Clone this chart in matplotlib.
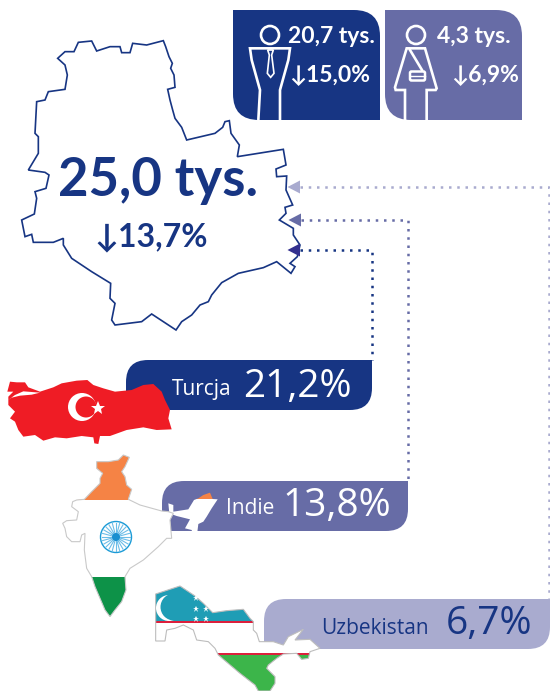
import numpy as np
import matplotlib.pyplot as plt
from matplotlib.path import Path
from matplotlib.patches import PathPatch, Polygon, Circle, Rectangle, FancyBboxPatch

NAVY = '#173583'
PURPLE = '#676ca6'
LIGHT = '#a9abcf'
FONT = ['Open Sans', 'DejaVu Sans']
BOLD_FONT = ['Lato', 'DejaVu Sans']

# values
total_label = '25,0 tys.'
total_change = '↓13,7%'
men_label, men_change = '20,7 tys.', '↓15,0%'
women_label, women_change = '4,3 tys.', '↓6,9%'
countries = ['Turcja', 'Indie', 'Uzbekistan']
shares = ['21,2%', '13,8%', '6,7%']

warsaw = [(490,122),(497,140),(507,170),(517,190),(512,205),(522,225),(525,262),(503,268),(510,300),(518,330),
          (525,355),(545,382),(560,420),(645,400),(668,382),(675,365),(688,362),(693,400),(718,435),(712,470),
          (850,448),(858,495),(828,507),(830,530),(860,528),(858,570),(878,615),(855,622),(858,640),(838,660),
          (880,685),(880,705),(900,735),(892,770),(870,790),(885,800),(873,820),(830,785),(790,803),(715,820),
          (665,848),(635,885),(625,905),(600,915),(575,945),(545,965),(528,990),(455,942),(425,965),(345,975),
          (335,960),(345,910),(330,895),(332,850),(275,815),(215,775),(190,735),(190,715),(160,727),(100,727),
          (95,703),(75,710),(65,660),(103,642),(110,595),(105,575),(138,565),(147,525),(135,517),(85,510),
          (115,460),(115,410),(105,400),(110,305),(135,300),(145,275),(195,268),(202,225),(195,195),(173,175),
          (195,155),(222,155),(235,127),(275,123),(290,153),(330,140),(360,140),(365,158),(390,158),(398,130),
          (440,135)]
turkey = [(30,95),(50,97),(75,97),(85,112),(120,125),(160,112),(185,100),(230,92),(262,90),(280,105),(310,115),
          (345,125),(395,120),(430,105),(460,102),(485,125),(495,150),(510,180),(505,205),(515,238),(470,240),
          (430,232),(380,240),(330,258),(300,258),(295,282),(283,280),(280,262),(245,258),(200,265),(165,262),
          (130,272),(105,255),(70,260),(55,240),(45,215),(30,205),(45,185),(25,165),(25,140),(40,125),(22,125)]
marmara = [(22,152),(45,135),(70,124),(120,128),(95,134),(60,137),(35,143)]
india = [(140,35),(175,35),(205,30),(220,15),(238,22),(225,50),(215,65),(225,80),(230,105),(245,118),(235,148),
         (270,165),(335,183),(355,185),(370,190),(360,210),(365,265),(350,265),(325,290),(280,330),(240,355),
         (225,380),(228,420),(215,455),(195,480),(180,500),(165,480),(150,445),(135,410),(125,380),(110,355),
         (103,300),(105,250),(95,255),(90,275),(65,275),(50,260),(45,235),(38,220),(50,212),(80,210),(85,185),
         (65,170),(68,155),(80,150),(103,148),(125,125),(150,100),(150,85),(158,70),(140,55)]
india_ne = [(355,160),(370,165),(370,185),(415,178),(432,150),(445,145),(460,135),(480,128),(488,147),(503,148),
            (485,175),(470,200),(460,215),(445,222),(440,262),(430,260),(425,240),(405,235),(420,208),(380,198),
            (358,190)]
uzbek = [(47,42),(120,18),(165,48),(190,70),(218,98),(260,92),(310,88),(330,115),(340,125),(340,150),(350,160),
         (358,185),(400,185),(430,195),(445,170),(490,148),(465,180),(510,178),(540,205),(510,215),(505,235),
         (485,238),(470,220),(430,222),(410,235),(385,255),(380,265),(405,290),(405,310),(390,333),(355,333),
         (345,315),(300,280),(235,225),(225,205),(205,185),(170,180),(160,150),(130,135),(105,145),(80,150),
         (75,183),(47,183)]
man_body = [(100,360),(105,270),(80,180),(75,145),(195,145),(190,180),(165,270),(165,360)]
man_tie = [(128,150),(145,150),(140,165),(147,220),(137,232),(127,220),(133,165)]
woman_body = [(540,360),(540,270),(512,270),(510,262),(545,145),(600,145),(635,265),(632,270),(605,270),(605,360)]


def crop(points, ox, oy):
    return [(ox + x / 3, oy + y / 3) for x, y in points]


def tile(ax, x0, y0, x1, y1, r, color, corners):
    # box with only some round corners: corners is (tl, tr, br, bl)
    tl, tr, br, bl = [r if c else 0 for c in corners]
    verts = [(x0 + tl, y0), (x1 - tr, y0), (x1, y0), (x1, y0 + tr), (x1, y1 - br), (x1, y1), (x1 - br, y1),
             (x0 + bl, y1), (x0, y1), (x0, y1 - bl), (x0, y0 + tl), (x0, y0), (x0 + tl, y0)]
    codes = [Path.MOVETO, Path.LINETO, Path.CURVE3, Path.CURVE3, Path.LINETO, Path.CURVE3, Path.CURVE3,
             Path.LINETO, Path.CURVE3, Path.CURVE3, Path.LINETO, Path.CURVE3, Path.CURVE3]
    ax.add_patch(PathPatch(Path(verts, codes), fc=color, ec='none', zorder=2))


def flag_shape(ax, points, bands, edge='none'):
    # horizontal colour bands clipped to the country outline
    shape = Polygon(points, closed=True, fc='none', ec=edge, lw=0.8, zorder=6)
    ax.add_patch(shape)
    for top, bottom, color in bands:
        band = Rectangle((0, top), 550, bottom - top, fc=color, ec='none', zorder=5)
        ax.add_patch(band)
        band.set_clip_path(shape)


def write(ax, x, y, s, size, color='white', weight='normal', ha='left', family=FONT):
    ax.text(x, y, s, fontsize=size, color=color, fontweight=weight, ha=ha, va='center',
            family=family, zorder=10)


fig = plt.figure(figsize=(5.5, 6.91), dpi=100, facecolor='w')
ax = fig.add_axes([0, 0, 1, 1])
ax.set_xlim(0, 550)
ax.set_ylim(691, 0)
ax.axis('off')

# city outline
ax.add_patch(Polygon(crop(warsaw, 0, 0), closed=True, fc='w', ec=NAVY, lw=1.2, zorder=1))
write(ax, 158, 180, total_label, 38, NAVY, 'bold', 'center', BOLD_FONT)
write(ax, 151, 237, total_change, 23, NAVY, 'bold', 'center', BOLD_FONT)

# men and women tiles
tile(ax, 233, 10, 380, 120, 26, NAVY, (0, 1, 0, 1))
tile(ax, 385, 10, 522, 120, 26, PURPLE, (0, 1, 0, 1))
write(ax, 331, 36, men_label, 16.5, weight='bold', ha='center', family=BOLD_FONT)
write(ax, 330, 75, men_change, 16.5, weight='bold', ha='center', family=BOLD_FONT)
write(ax, 474, 36, women_label, 16.5, weight='bold', ha='center', family=BOLD_FONT)
write(ax, 485, 75, women_change, 16.5, weight='bold', ha='center', family=BOLD_FONT)

ax.add_patch(Circle((270, 35), 9, fc='none', ec='w', lw=1.9, zorder=4))
ax.add_patch(Polygon(crop(man_body, 225, 0), closed=False, fc='none', ec='w', lw=1.9, zorder=4))
ax.add_patch(Polygon(crop(man_tie, 225, 0), closed=True, fc='none', ec='w', lw=1.2, zorder=4))
ax.add_patch(Circle((416, 35), 9, fc='none', ec='w', lw=1.9, zorder=4))
ax.add_patch(Polygon(crop(woman_body, 225, 0), closed=False, fc='none', ec='w', lw=1.9, zorder=4))
ax.plot([410, 422], [50, 70], color='w', lw=1.9, zorder=4)
ax.add_patch(FancyBboxPatch((410, 71.5), 15, 9, boxstyle='round,pad=0,rounding_size=1.5', fc='none', ec='w', lw=1.8, zorder=4))
ax.plot([410, 425], [76, 76], color='w', lw=1, zorder=4)

# dotted leaders and arrow heads
leaders = [([300, 372, 372], [250, 250, 360], NAVY, '#33308f'),
           ([301, 408, 408], [220, 220, 481], PURPLE, PURPLE),
           ([300, 549, 549], [187, 187, 600], LIGHT, LIGHT)]
for xs, ys, color, head in leaders:
    ax.plot(xs, ys, color=color, lw=1.8, ls=(0, (1, 2.3)), zorder=3)
    ax.add_patch(Polygon([(xs[0] - 12.5, ys[0]), (xs[0], ys[0] - 6.5), (xs[0], ys[0] + 6.5)], fc=head, ec='none', zorder=4))

# country pills
tile(ax, 126, 360, 372, 410, 22, NAVY, (1, 0, 1, 0))
tile(ax, 162, 481, 408, 531, 22, PURPLE, (1, 0, 1, 0))
tile(ax, 264, 599, 550, 649, 22, LIGHT, (1, 0, 1, 0))
write(ax, 172, 389, countries[0], 15)
write(ax, 243, 387, shares[0], 28)
write(ax, 226, 509, countries[1], 15)
write(ax, 282, 506, shares[1], 28)
write(ax, 321, 628, countries[2], 15, NAVY)
write(ax, 446, 624, shares[2], 28, NAVY)

# Turkey
ax.add_patch(Polygon(crop(turkey, 0, 350), closed=True, fc='#ef1c25', ec='none', zorder=5))
ax.add_patch(Polygon(crop(marmara, 0, 350), closed=True, fc='w', ec='none', zorder=6))
ax.add_patch(Circle((82, 407), 14, fc='w', ec='none', zorder=6))
ax.add_patch(Circle((86, 407), 10.5, fc='#ef1c25', ec='none', zorder=7))
ax.plot([98], [408], marker='*', ms=10, mfc='w', mec='w', mew=0, zorder=8)

# India
india_bands = [(0, 499.5, '#f58345'), (499.5, 576.5, 'w'), (576.5, 691, '#0d9248')]
flag_shape(ax, crop(india, 50, 450), india_bands, '#c9c9c9')
ne_bands = [(0, 499, '#f58345'), (499, 691, 'w')]
flag_shape(ax, crop(india_ne, 50, 450), ne_bands, 'none')
ax.add_patch(Circle((116, 537), 15.5, fc='w', ec='#1a9ad6', lw=1, zorder=7))
for a in np.linspace(0, 2 * np.pi, 24, endpoint=False):
    ax.plot([116, 116 + 14 * np.cos(a)], [537, 537 + 14 * np.sin(a)], color='#6cbde8', lw=0.8, zorder=7)
ax.add_patch(Circle((116, 537), 4, fc='#1a8fd0', ec='none', zorder=8))

# Uzbekistan
uz_bands = [(0, 621, '#1f9db5'), (621, 623, '#dc1f3c'), (623, 653, 'w'), (653, 655, '#dc1f3c'), (655, 691, '#3cb54a')]
flag_shape(ax, crop(uzbek, 140, 580), uz_bands, '#bdbdbd')
ax.add_patch(Circle((169, 608), 13, fc='w', ec='none', zorder=7))
ax.add_patch(Circle((174, 607), 13.5, fc='#1f9db5', ec='none', zorder=8))
star_x = [196, 196, 206, 196, 206]
star_y = [598, 609, 609, 619, 619]
ax.plot(star_x, star_y, ls='none', marker='*', ms=4.5, mfc='w', mew=0, zorder=8)

fig.savefig('out.png', dpi=100)
